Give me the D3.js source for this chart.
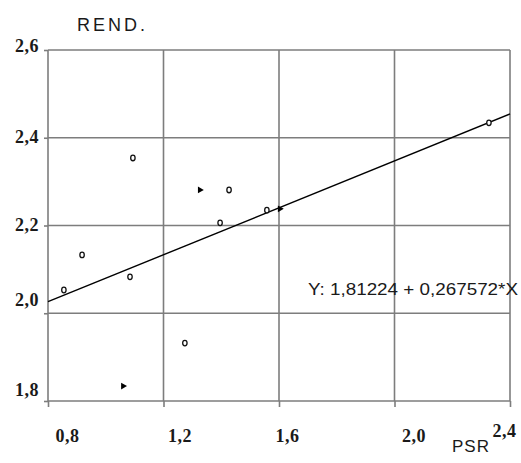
<!DOCTYPE html>
<html>
<head>
<meta charset="utf-8">
<script src="https://cdn.jsdelivr.net/npm/d3@7"></script>
<style>
  body { margin: 0; background: #fff; }
</style>
</head>
<body>
<div id="chart"></div>
<script>
// measured points (PSR vs REND.)
var psr  = [0.855, 0.918, 1.084, 1.094, 1.326, 1.427, 1.396, 1.274, 1.060, 1.558, 1.603, 2.327];
var rend = [2.053, 2.133, 2.083, 2.354, 2.281, 2.281, 2.206, 1.932, 1.834, 2.235, 2.238, 2.434];
var filled = [false, false, false, false, true, false, false, false, true, false, true, false];

var xTicks = [0.8, 1.2, 1.6, 2.0, 2.4];
var yTicks = [1.8, 2.0, 2.2, 2.4, 2.6];

var intercept = 1.81224;
var slope = 0.267572;
var eqLabel = "Y: 1,81224 + 0,267572*X";
var yTitle = "REND.";
var xTitle = "PSR";

var svgWidth = 521;
var svgHeight = 463;
var margin = {top: 50, right: 11, bottom: 62, left: 48};
var width = svgWidth - margin.left - margin.right;
var height = svgHeight - margin.top - margin.bottom;

var svg = d3.select("#chart").append("svg")
  .attr("width", svgWidth)
  .attr("height", svgHeight)
  .style("background", "#fff");

var g = svg.append("g")
  .attr("transform", "translate(" + margin.left + "," + margin.top + ")");

var x = d3.scaleLinear().domain([0.8, 2.4]).range([0, width]);
var y = d3.scaleLinear().domain([1.8, 2.6]).range([height, 0]);

var fmt = d3.formatLocale({decimal: ",", thousands: ".", grouping: [3], currency: ["", ""]}).format(".1f");

// grid
g.append("g").selectAll("line").data(xTicks).enter().append("line")
  .attr("x1", d => x(d)).attr("x2", d => x(d))
  .attr("y1", 0).attr("y2", height)
  .attr("stroke", "#7d7d7d").attr("stroke-width", 1.6);

g.append("g").selectAll("line").data(yTicks).enter().append("line")
  .attr("x1", 0).attr("x2", width)
  .attr("y1", d => y(d)).attr("y2", d => y(d))
  .attr("stroke", "#7d7d7d").attr("stroke-width", 1.6);

// axes
var xNudge = [19, 16, 8, 19, -6];
var xNudgeY = [0, 0, 0, 0, -5];
var yNudge = [-11, -13, 0, 0, -4];

var xAxis = g.append("g")
  .attr("transform", "translate(0," + height + ")")
  .call(d3.axisBottom(x).tickValues(xTicks).tickSize(6).tickFormat(fmt));
xAxis.select(".domain").remove();
xAxis.selectAll(".tick line").attr("stroke", "#7d7d7d").attr("stroke-width", 1.6);
xAxis.selectAll(".tick text")
  .attr("dy", null)
  .attr("y", (d, i) => 41 + xNudgeY[i])
  .attr("x", (d, i) => xNudge[i]);

var yAxis = g.append("g")
  .call(d3.axisLeft(y).tickValues(yTicks).tickSize(4).tickFormat(fmt));
yAxis.select(".domain").remove();
yAxis.selectAll(".tick line").attr("stroke", "#7d7d7d").attr("stroke-width", 1.6);
yAxis.selectAll(".tick text")
  .attr("x", -9)
  .attr("dy", (d, i) => (yNudge[i] + 5) + "px");

svg.selectAll(".tick text")
  .attr("font-family", "Liberation Serif, serif")
  .attr("font-size", 18)
  .attr("font-weight", "bold")
  .attr("letter-spacing", 0.5)
  .attr("fill", "#1a1a1a");

// regression line
var line = d3.line()
  .x(d => x(d))
  .y(d => y(intercept + slope * d));

g.append("path")
  .datum(x.domain())
  .attr("fill", "none")
  .attr("stroke", "#000")
  .attr("stroke-width", 1.4)
  .attr("d", line);

// points
var pts = psr.map((d, i) => ({x: d, y: rend[i], f: filled[i]}));

g.selectAll(".pt").data(pts.filter(d => !d.f)).enter().append("ellipse")
  .attr("class", "pt")
  .attr("cx", d => x(d.x))
  .attr("cy", d => y(d.y))
  .attr("rx", 2.2)
  .attr("ry", 2.8)
  .attr("fill", "#fff")
  .attr("stroke", "#111")
  .attr("stroke-width", 1.3);

g.selectAll(".ptf").data(pts.filter(d => d.f)).enter().append("path")
  .attr("class", "ptf")
  .attr("transform", d => "translate(" + x(d.x) + "," + y(d.y) + ") rotate(90)")
  .attr("d", d3.symbol().type(d3.symbolTriangle).size(20))
  .attr("fill", "#000");

// texts
svg.append("text")
  .attr("x", 77).attr("y", 31)
  .attr("font-family", "Liberation Sans, Arial, sans-serif")
  .attr("font-size", 18)
  .attr("textLength", 68)
  .attr("lengthAdjust", "spacing")
  .attr("fill", "#1a1a1a")
  .text(yTitle);

svg.append("text")
  .attr("x", 452).attr("y", 452)
  .attr("font-family", "Liberation Sans, Arial, sans-serif")
  .attr("font-size", 17)
  .attr("letter-spacing", 1)
  .attr("fill", "#1a1a1a")
  .text(xTitle);

svg.append("text")
  .attr("x", 308).attr("y", 295)
  .attr("font-family", "Liberation Sans, Arial, sans-serif")
  .attr("font-size", 16)
  .attr("textLength", 210)
  .attr("lengthAdjust", "spacingAndGlyphs")
  .attr("fill", "#1a1a1a")
  .text(eqLabel);
</script>
</body>
</html>
